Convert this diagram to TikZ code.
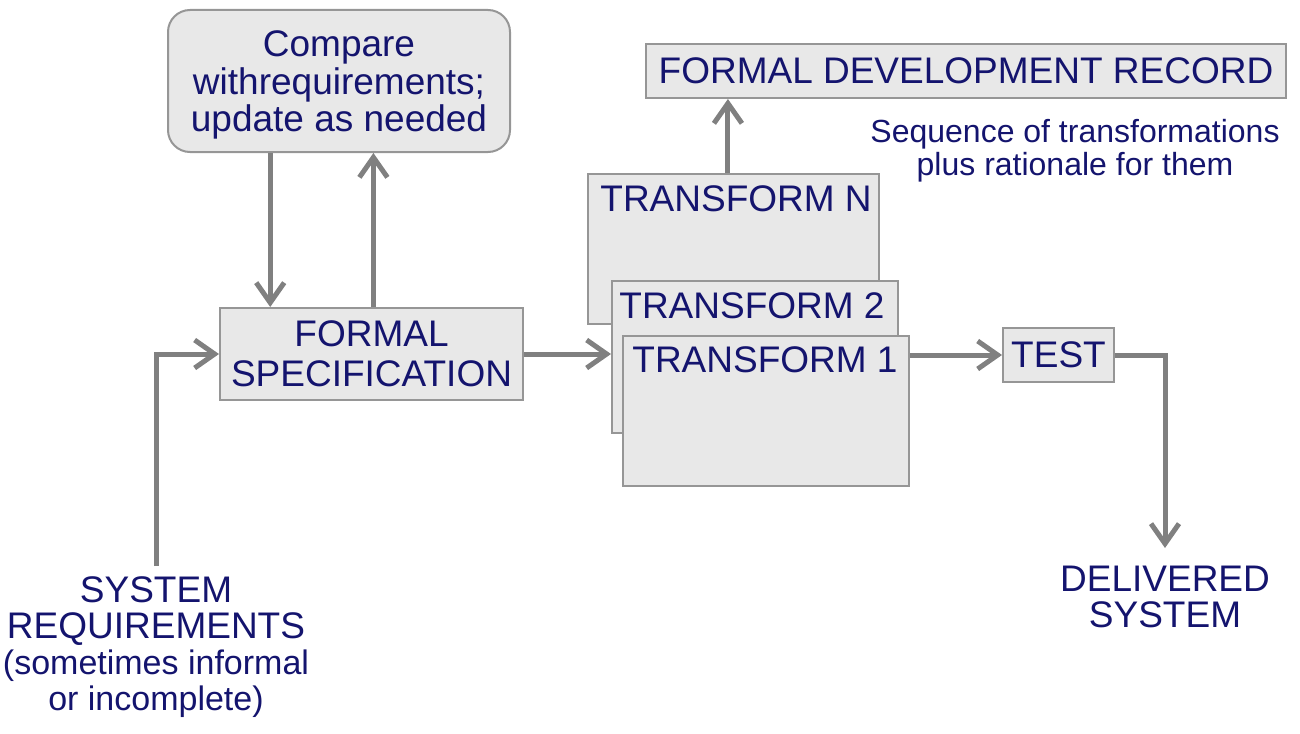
\documentclass[tikz,border=0pt]{standalone}
\usepackage{fontspec}
\setmainfont{Liberation Sans}
\usetikzlibrary{arrows.meta,calc}
\definecolor{navy}{RGB}{20,20,110}
\definecolor{boxfill}{RGB}{232,232,232}
\definecolor{boxline}{RGB}{150,150,150}
\definecolor{arrgray}{RGB}{128,128,128}
\begin{document}
\begin{tikzpicture}[x=0.5pt,y=-0.5pt,
  box/.style={draw=boxline,fill=boxfill,line width=1pt,inner sep=0pt},
  lbl/.style={text=navy,font=\fontsize{18.5}{20}\selectfont,inner sep=0pt,align=center},
  arr/.style={draw=arrgray,line width=2.5pt,-{Straight Barb[length=10pt,width=14pt]}}]
\useasboundingbox (0,0) rectangle (1300,733);

% boxes
\node[box,rounded corners=11pt,minimum width=171pt,minimum height=71pt] (cmp) at (339,81) {};
\node[lbl,font=\fontsize{18.5}{18.75}\selectfont] (cmptxt) at (339,85)
      {Compare\\withrequirements;\\update as needed};
\node[box,lbl,minimum width=151.5pt,minimum height=46pt] (spec) at (371.5,354)
      {FORMAL\\SPECIFICATION};
\node[box,lbl,minimum width=320pt,minimum height=27pt] (fdr) at (966,71)
      {FORMAL DEVELOPMENT RECORD};
\node[box,lbl,minimum width=55.5pt,minimum height=27pt] (test) at (1058.5,355) {TEST};

\node[box,anchor=north west,minimum width=145.5pt,minimum height=75pt] (tN) at (587,173) {};
\node[lbl,anchor=base west] (tNtxt) at (600,211) {TRANSFORM N};
\node[box,anchor=north west,minimum width=143pt,minimum height=76pt] (t2) at (611,280) {};
\node[lbl,anchor=base west] (t2txt) at (619,318) {TRANSFORM 2};
\node[box,anchor=north west,minimum width=143pt,minimum height=75pt] (t1) at (622,335) {};
\node[lbl,anchor=base west] (t1txt) at (632,372) {TRANSFORM 1};

% free texts
\node[lbl,font=\fontsize{16}{16.5}\selectfont,anchor=north] (seq) at (1075,119)
      {Sequence of transformations\\plus rationale for them};
\node[lbl,anchor=north] (sysreq) at (156,576)
      {SYSTEM\\[-2pt]REQUIREMENTS\\[-2pt]{\fontsize{17}{17.5}\selectfont (sometimes informal}\\[-2pt]{\fontsize{17}{17.5}\selectfont or incomplete)}};
\node[lbl,font=\fontsize{18.5}{18}\selectfont,anchor=north] (deliv) at (1165,566)
      {DELIVERED\\SYSTEM};

% connectors
\coordinate (dn) at ($(cmp.south west)!0.3!(cmp.south east)$);
\coordinate (up) at ($(cmp.south west)!0.6!(cmp.south east)$);
\coordinate (tNtop) at ($(tN.north west)!0.481!(tN.north east)$);
\draw[arr] (dn) -- (dn |- spec.north);
\draw[arr] (up |- spec.north) -- (up);
\draw[arr] ([yshift=5pt]sysreq.north) |- (spec.west);
\draw[arr] (spec.east) -- (spec.east -| t2.west);
\draw[arr] (tNtop) -- (tNtop |- fdr.south);
\draw[arr] (test.west -| t1.east) -- (test.west);
\draw[arr] (test.east) -| ([yshift=9pt]deliv.north);
\end{tikzpicture}
\end{document}
